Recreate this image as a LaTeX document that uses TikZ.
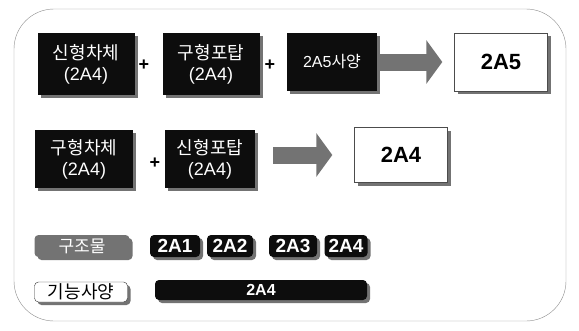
\documentclass[tikz,border=0pt]{standalone}
\usepackage{fontspec}
\setmainfont{Liberation Sans}
\newfontfamily\kr{Noto Sans CJK KR}
\usepackage{xcolor}
\usetikzlibrary{arrows.meta,positioning,calc,shadows}

\begin{document}
\begin{tikzpicture}[
  x=1pt,y=-1pt,
  every node/.style={font=\fontsize{18}{21}\selectfont,align=center},
  shade/.style={drop shadow={shadow xshift=3pt,shadow yshift=-3pt,fill=black!55,opacity=1}},
  dbox/.style={rectangle,fill=black!95,text=white,inner sep=0pt,shade},
  rbox/.style={rectangle,draw=black!70,thin,fill=white,inner sep=0pt,
    minimum width=93pt,font=\bfseries\fontsize{22}{24}\selectfont,shade},
  tag/.style={rounded corners=4pt,fill=black!95,text=white,inner sep=0pt,
    minimum height=22pt,font=\bfseries\fontsize{19}{21}\selectfont,shade},
  plus/.style={font=\bfseries\fontsize{18}{18}\selectfont,inner sep=0pt},
  fat/.style={-{Triangle[length=16pt,width=43pt]},line width=17pt,black!55}
]
\useasboundingbox (0,0) rectangle (579,330);
% outer frame
\draw[black!45,thin,rounded corners=40pt] (14,9) rectangle (566,321);

% first row
\node[dbox,minimum width=97pt,minimum height=62pt] (nbody) at (86,64) {{\kr 신형차체}\\(2A4)};
\node[dbox,minimum width=97pt,minimum height=62pt] (oturret) at (211,64) {{\kr 구형포탑}\\(2A4)};
\node[dbox,minimum width=90pt,minimum height=58pt,
  font=\fontsize{16}{18}\selectfont] (spec) at (332,62) {2A5{\kr 사양}};
\node[rbox,minimum height=58pt] (a5) at (501,62) {2A5};
\node[plus] (p1) at (144,65) {+};
\node[plus] (p2) at (270,65) {+};

% second row
\node[dbox,minimum width=98pt,minimum height=58pt] (obody) at (84,159) {{\kr 구형차체}\\(2A4)};
\node[dbox,minimum width=90pt,minimum height=58pt] (nturret) at (210,159) {{\kr 신형포탑}\\(2A4)};
\node[rbox,minimum height=55pt] (a4) at (401,155) {2A4};
\node[plus] (p3) at (155,163) {+};

\draw[fat,shorten <=3pt,shorten >=12pt] (spec.east |- a5) -- (a5.west);
\draw[fat,shorten <=18pt,shorten >=22pt] (nturret.east |- a4) -- (a4.west);

% structure / function
\node[tag,fill=black!55,minimum width=95pt,
  font=\kr\fontsize{17}{19}\selectfont,text=white] (struct) at (82,246) {구조물};
\foreach \n/\x/\w in {1/175/50,2/230/46,3/293/48,4/346/43}
  \node[tag,minimum width=\w pt] (s\n) at (\x,246) {2A\n};
\node[tag,fill=white,draw=black!80,text=black,minimum width=93pt,minimum height=20pt,
  font=\kr\fontsize{18}{20}\selectfont] (func) at (81,292) {기능사양};
\node[tag,minimum width=212pt,minimum height=20pt,
  font=\bfseries\fontsize{16}{18}\selectfont] (fbar) at (261,290) {2A4};
\end{tikzpicture}
\end{document}
